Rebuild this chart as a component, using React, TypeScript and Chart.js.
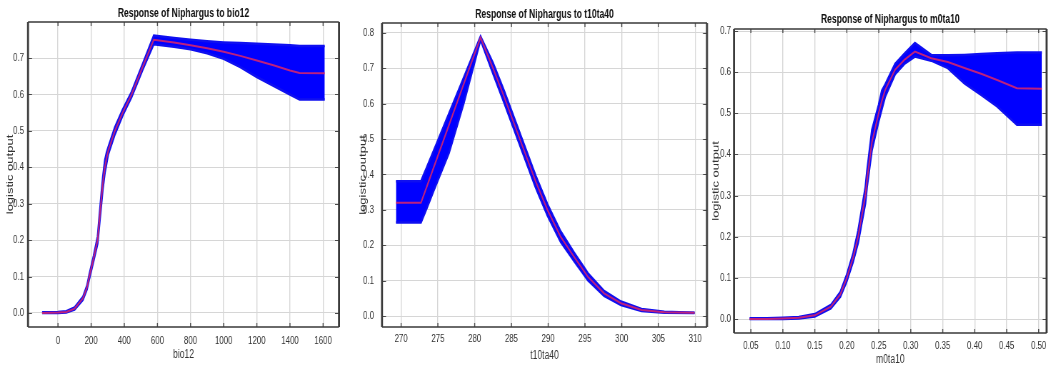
import React, { useEffect, useRef } from "react";
import { Chart, registerables } from "chart.js";

Chart.register(...registerables);

const FONT = "'Liberation Sans', Arial, Helvetica, sans-serif";
// horizontal squeeze of the whole figure (the reference is a horizontally compressed MATLAB-style plot)
const K = 1.4;
const H = 366;

// ---------- Panel 1: bio12 ----------
const bio12X = [-96, 0, 50, 100, 150, 175, 189, 215, 239, 259, 271, 283, 293, 303, 343, 390, 444, 510, 578, 700, 800, 900, 1000, 1100, 1200, 1300, 1400, 1458, 1610];
const bio12Mean = [0, 0.001, 0.003, 0.012, 0.04, 0.07, 0.1, 0.15, 0.2, 0.3, 0.358, 0.4, 0.425, 0.445, 0.5, 0.55, 0.6, 0.675, 0.75, 0.743, 0.735, 0.727, 0.717, 0.706, 0.693, 0.68, 0.666, 0.659, 0.658];
const bio12Upper = [0.002, 0.003, 0.005, 0.015, 0.044, 0.075, 0.106, 0.157, 0.21, 0.315, 0.375, 0.42, 0.44, 0.455, 0.51, 0.558, 0.607, 0.683, 0.762, 0.755, 0.75, 0.746, 0.743, 0.741, 0.739, 0.737, 0.735, 0.733, 0.733];
const bio12Lower = [0, 0, 0.001, 0.009, 0.036, 0.065, 0.094, 0.143, 0.19, 0.285, 0.342, 0.385, 0.41, 0.435, 0.49, 0.542, 0.593, 0.667, 0.738, 0.731, 0.724, 0.713, 0.698, 0.675, 0.648, 0.624, 0.6, 0.586, 0.586];

// ---------- Panel 2: t10ta40 ----------
const t10X = [269.3, 272.7, 273.5, 274.5, 276.5, 278.5, 280.8, 282.5, 284, 286.5, 288.3, 289.9, 291.7, 293.5, 295.4, 297.6, 299.9, 302.7, 305.8, 309.9];
const t10Mean = [0.32, 0.32, 0.366, 0.424, 0.539, 0.655, 0.787, 0.7, 0.62, 0.48, 0.38, 0.3, 0.224, 0.168, 0.111, 0.064, 0.036, 0.017, 0.0105, 0.009];
const t10Upper = [0.381, 0.381, 0.421, 0.471, 0.572, 0.673, 0.79, 0.715, 0.637, 0.497, 0.397, 0.316, 0.239, 0.18, 0.121, 0.071, 0.041, 0.02, 0.012, 0.0095];
const t10Lower = [0.264, 0.264, 0.305, 0.358, 0.46, 0.6, 0.78, 0.685, 0.603, 0.463, 0.363, 0.284, 0.209, 0.156, 0.101, 0.057, 0.031, 0.014, 0.009, 0.0085];

// ---------- Panel 3: m0ta10 ----------
const m0X = [0.048, 0.075, 0.1, 0.125, 0.15, 0.175, 0.19, 0.2, 0.21, 0.2177, 0.229, 0.2316, 0.2393, 0.2497, 0.2548, 0.26, 0.2755, 0.29, 0.3065, 0.332, 0.358, 0.384, 0.41, 0.435, 0.466, 0.505];
const m0Mean = [0, 0, 0.001, 0.003, 0.009, 0.03, 0.06, 0.1, 0.15, 0.2, 0.3, 0.338, 0.43, 0.5, 0.53, 0.557, 0.606, 0.63, 0.65, 0.634, 0.625, 0.61, 0.596, 0.581, 0.561, 0.56];
const m0Upper = [0.002, 0.002, 0.003, 0.005, 0.012, 0.034, 0.066, 0.108, 0.16, 0.215, 0.32, 0.36, 0.46, 0.52, 0.555, 0.57, 0.62, 0.645, 0.671, 0.642, 0.641, 0.642, 0.644, 0.646, 0.648, 0.648];
const m0Lower = [0, 0, 0, 0.001, 0.006, 0.026, 0.054, 0.092, 0.14, 0.185, 0.28, 0.32, 0.41, 0.48, 0.51, 0.54, 0.595, 0.62, 0.638, 0.628, 0.61, 0.573, 0.545, 0.517, 0.472, 0.472];

const titles = ["Response of Niphargus to bio12", "Response of Niphargus to t10ta40", "Response of Niphargus to m0ta10"];
const xTitles = ["bio12", "t10ta40", "m0ta10"];
const yTitle = "logistic output";

type Spec = {
  title: string;
  xTitle: string;
  xs: number[];
  mean: number[];
  upper: number[];
  lower: number[];
  xMin: number;
  xMax: number;
  xStep: number;
  xDecimals: number;
  yMin: number;
  yMax: number;
  left: number;
  w: number;
  aLeft: number;
  aRight: number;
  aTop: number;
  aBottom: number;
  titleCenter: number;
  yTitleX: number;
  yLabelPad: number;
  xLabelCenter: number;
  xTitleCenter: number;
};

const specs: Spec[] = [
  {
    title: titles[0], xTitle: xTitles[0], xs: bio12X, mean: bio12Mean, upper: bio12Upper, lower: bio12Lower,
    xMin: -181, xMax: 1696, xStep: 200, xDecimals: 0, yMin: -0.0385, yMax: 0.799,
    left: 0, w: 345, aLeft: 28, aRight: 339, aTop: 22, aBottom: 327,
    titleCenter: 14, yTitleX: 10, yLabelPad: 4, xLabelCenter: 341, xTitleCenter: 355,
  },
  {
    title: titles[1], xTitle: xTitles[1], xs: t10X, mean: t10Mean, upper: t10Upper, lower: t10Lower,
    xMin: 267.4, xMax: 311.6, xStep: 5, xDecimals: 0, yMin: -0.031, yMax: 0.828,
    left: 345, w: 367, aLeft: 37, aRight: 362, aTop: 23, aBottom: 327,
    titleCenter: 14.5, yTitleX: 18, yLabelPad: 8, xLabelCenter: 339, xTitleCenter: 355.5,
  },
  {
    title: titles[2], xTitle: xTitles[2], xs: m0X, mean: m0Mean, upper: m0Upper, lower: m0Lower,
    xMin: 0.0237, xMax: 0.5124, xStep: 0.05, xDecimals: 2, yMin: -0.034, yMax: 0.705,
    left: 705, w: 346, aLeft: 29, aRight: 345, aTop: 29, aBottom: 333,
    titleCenter: 20, yTitleX: 11, yLabelPad: 3, xLabelCenter: 346, xTitleCenter: 360,
  },
];

const framePlugin = {
  id: "matlabFrame",
  afterDraw(chart: any) {
    const { ctx, chartArea: a, scales } = chart;
    ctx.save();
    ctx.strokeStyle = "#4a4a4a";
    ctx.beginPath();
    ctx.lineWidth = K;
    for (const t of scales.x.ticks) {
      const px = scales.x.getPixelForValue(t.value);
      ctx.moveTo(px, a.bottom);
      ctx.lineTo(px, a.bottom - 4);
      ctx.moveTo(px, a.top);
      ctx.lineTo(px, a.top + 4);
    }
    ctx.stroke();
    ctx.beginPath();
    ctx.lineWidth = 1;
    for (const t of scales.y.ticks) {
      const py = Math.round(scales.y.getPixelForValue(t.value)) + 0.5;
      ctx.moveTo(a.left, py);
      ctx.lineTo(a.left + 4 * K, py);
      ctx.moveTo(a.right, py);
      ctx.lineTo(a.right - 4 * K, py);
    }
    ctx.stroke();
    ctx.strokeStyle = "#3a3a3a";
    ctx.lineWidth = 1.5;
    ctx.beginPath();
    ctx.moveTo(a.left, a.top);
    ctx.lineTo(a.right, a.top);
    ctx.moveTo(a.left, a.bottom);
    ctx.lineTo(a.right, a.bottom);
    ctx.stroke();
    ctx.lineWidth = 2 * K;
    ctx.beginPath();
    ctx.moveTo(a.left, a.top);
    ctx.lineTo(a.left, a.bottom);
    ctx.moveTo(a.right, a.top);
    ctx.lineTo(a.right, a.bottom);
    ctx.stroke();
    ctx.restore();
  },
};

function Panel({ s }: { s: Spec }) {
  const ref = useRef<HTMLCanvasElement>(null);
  const iw = Math.round(s.w * K);
  useEffect(() => {
    const titleLH = 12 * 1.2;
    const tPadTop = s.titleCenter - titleLH / 2;
    const tPadBottom = s.aTop - titleLH - tPadTop;
    const tickLH = 11 * 1.2;
    const xAxLH = 12 * 1.2;
    const yAxLH = 13 * 1.2;
    const pts = (ys: number[]) => s.xs.map((x, i) => ({ x, y: ys[i] }));
    const chart = new Chart(ref.current as HTMLCanvasElement, {
      type: "line",
      data: {
        datasets: [
          {
            label: "lower",
            data: pts(s.lower),
            borderColor: "rgb(15,15,240)",
            borderWidth: 2.5,
            pointRadius: 0,
            fill: false,
            order: 1,
          },
          {
            label: "upper",
            data: pts(s.upper),
            borderColor: "rgb(15,15,240)",
            borderWidth: 2.5,
            backgroundColor: "rgb(0,0,255)",
            pointRadius: 0,
            fill: 0,
            order: 1,
          },
          {
            label: "mean",
            data: pts(s.mean),
            borderColor: "rgba(205,35,115,0.92)",
            borderWidth: 2,
            pointRadius: 0,
            fill: false,
            order: 0,
          },
        ],
      },
      options: {
        responsive: false,
        maintainAspectRatio: false,
        animation: false,
        events: [],
        elements: { line: { tension: 0 } },
        layout: { padding: { left: 0, right: (s.w - s.aRight) * K, top: 0, bottom: 0 } },
        plugins: {
          legend: { display: false },
          tooltip: { enabled: false },
          title: {
            display: true,
            text: s.title,
            fullSize: false,
            color: "#111",
            font: { family: FONT, size: 12, weight: "bold", lineHeight: 1.2 },
            padding: { top: tPadTop, bottom: tPadBottom },
          },
        },
        scales: {
          x: {
            type: "linear",
            min: s.xMin,
            max: s.xMax,
            afterFit: (sc: any) => {
              sc.height = H - s.aBottom;
            },
            ticks: {
              stepSize: s.xStep,
              includeBounds: false,
              autoSkip: false,
              maxRotation: 0,
              padding: s.xLabelCenter - s.aBottom - tickLH / 2,
              color: "#333",
              font: { family: FONT, size: 11 },
              callback: (v: any) => Number(v).toFixed(s.xDecimals),
            },
            grid: { color: "#d6d6d6", lineWidth: K, drawTicks: false },
            border: { display: false },
            title: {
              display: true,
              text: s.xTitle,
              color: "#333",
              font: { family: FONT, size: 12, lineHeight: 1.2 },
              padding: { top: 0, bottom: H - s.xTitleCenter - xAxLH / 2 },
            },
          },
          y: {
            type: "linear",
            min: s.yMin,
            max: s.yMax,
            afterFit: (sc: any) => {
              sc.width = s.aLeft * K;
            },
            ticks: {
              stepSize: 0.1,
              includeBounds: false,
              padding: s.yLabelPad * K,
              color: "#333",
              font: { family: FONT, size: 11 },
              callback: (v: any) => Number(v).toFixed(1),
            },
            grid: { color: "#d6d6d6", lineWidth: 1, drawTicks: false },
            border: { display: false },
            title: {
              display: true,
              text: yTitle,
              color: "#333",
              font: { family: FONT, size: 13, lineHeight: 1.2 },
              padding: { top: s.yTitleX * K - yAxLH / 2, bottom: 0 },
            },
          },
        },
      },
      plugins: [framePlugin],
    } as any);
    return () => chart.destroy();
  }, [s]);
  return (
    <canvas
      ref={ref}
      width={iw}
      height={H}
      style={{ position: "absolute", left: s.left, top: 0, width: s.w, height: H }}
    />
  );
}

export default function App() {
  return (
    <div style={{ position: "fixed", left: 0, top: 0, width: 1051, height: H, background: "#fff", overflow: "hidden" }}>
      {specs.map((s) => (
        <Panel key={s.title} s={s} />
      ))}
    </div>
  );
}
